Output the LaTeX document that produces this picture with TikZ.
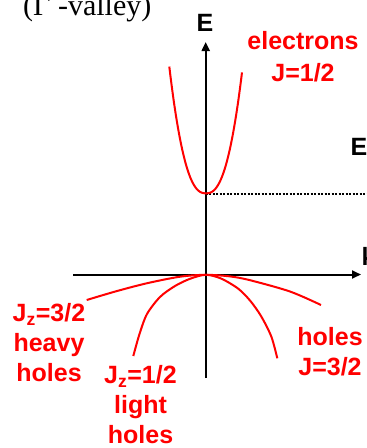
\documentclass[tikz,border=0pt]{standalone}
\usepackage{fontspec}
\setmainfont{Liberation Serif}
\setsansfont{Liberation Sans}
\usetikzlibrary{arrows.meta}
\begin{document}
\begin{tikzpicture}[x=1pt,y=-1pt,
  lbl/.style={font=\sffamily\bfseries\fontsize{25}{30}\selectfont, text=red, align=center, inner sep=0pt, anchor=north},
  axislbl/.style={font=\sffamily\bfseries\fontsize{25}{30}\selectfont, inner sep=0pt, anchor=base},
  band/.style={red, line width=2pt, line join=round},
  axisline/.style={line width=2pt, -{Triangle[length=9pt,width=8pt]}},
  levelline/.style={line width=2pt, dash pattern=on 2pt off 1.5pt}]
\useasboundingbox (0,0) rectangle (367,448);
% axes
\coordinate (O) at (205.7,274.5);
\coordinate (ytop) at (205.7,42);
\coordinate (ybot) at (205.7,378);
\coordinate (xl) at (73,274.5);
\coordinate (xr) at (361,274.5);
\draw[axisline] (ybot) -- (ytop);
\draw[axisline] (xl) -- (xr);
% conduction band edge level
\coordinate (Ec) at (205.7,193.5);
\coordinate (Ecr) at (368,193.5);
\draw[levelline] (Ec) -- (Ecr);
% electrons
\draw[band] plot[domain=-36.7:36, samples=73] ({206+\x},{193.3-0.0186*abs(\x)^2.45});
% heavy holes
\draw[band] plot[smooth] coordinates {(86.7,300) (116,291.3) (146.7,283.3) (180,276.7) (205.7,274.8) (230,276.4) (250,280.2) (290,291.5) (321,305)};
% light holes
\draw[band] plot[smooth] coordinates {(133.3,356) (139.5,334) (147,314) (160,297) (175,286) (190,278.8) (205.7,274.8) (221,278.5) (238,288.5) (250,300.5) (261,316) (271.3,336.5) (277.3,358.3)};
% labels
\node[font=\fontsize{30}{36}\selectfont, anchor=base west, inner sep=0pt] (title) at (23,15) {(Γ -valley)};
\node[axislbl] (Elbl) at (205,31.7) {E};
\node[axislbl, anchor=base west] (Eg) at (350.5,155) {E};
\node[axislbl, anchor=base west] (klbl) at (361.5,265) {k};
\node[lbl] (elec) at (303,31.4) {electrons\\[2pt]J=1/2};
\node[lbl] (hh) at (49,303.5) {J\textsubscript{z}=3/2\\heavy\\holes};
\node[lbl] (lh) at (140.5,365) {J\textsubscript{z}=1/2\\light\\holes};
\node[lbl] (hol) at (330,327.5) {holes\\J=3/2};
\end{tikzpicture}
\end{document}
